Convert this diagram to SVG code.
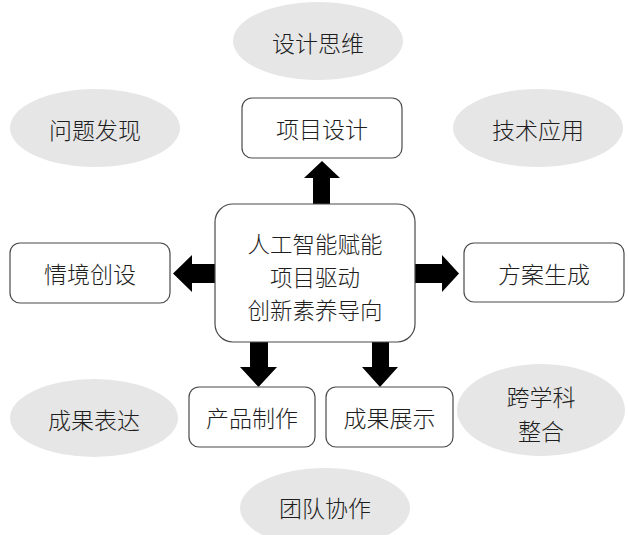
<svg xmlns="http://www.w3.org/2000/svg" width="628" height="535" viewBox="0 0 628 535">
<style>
.ell{fill:#e6e6e6;stroke:none}
.box{fill:#ffffff;stroke:#4a4a4a;stroke-width:1.2}
.t{font-family:"Noto Sans CJK SC","Noto Sans",sans-serif;font-size:23px;font-weight:300;fill:#1e1e1e;text-anchor:middle;dominant-baseline:central}
.tc{font-size:22.5px}
.arr{fill:#000000}
</style>
<rect width="628" height="535" fill="#ffffff"/>
<g id="ellipse-sheji-siwei"><ellipse class="ell" cx="318" cy="41" rx="85" ry="39"/><text class="t" x="318" y="42">设计思维</text></g>
<g id="ellipse-wenti-faxian"><ellipse class="ell" cx="95" cy="128" rx="85" ry="39"/><text class="t" x="95" y="129">问题发现</text></g>
<g id="ellipse-jishu-yingyong"><ellipse class="ell" cx="538" cy="128" rx="85" ry="39"/><text class="t" x="538" y="129">技术应用</text></g>
<g id="ellipse-chengguo-biaoda"><ellipse class="ell" cx="94" cy="418" rx="84" ry="39"/><text class="t" x="94" y="419">成果表达</text></g>
<g id="ellipse-kuxueke"><ellipse class="ell" cx="541" cy="410" rx="84" ry="46"/><text class="t" x="541" y="396">跨学科</text><text class="t" x="541" y="430">整合</text></g>
<g id="ellipse-tuandui"><ellipse class="ell" cx="325" cy="508" rx="85" ry="40"/><text class="t" x="325" y="507">团队协作</text></g>
<g id="connectors">
<polygon class="arr" points="313,205 313,178 304,178 322,161 340,178 330,178 330,205"/>
<polygon class="arr" points="215,264 192,264 192,255 173,273.5 192,292 192,283 215,283"/>
<polygon class="arr" points="415,264 442,264 442,255 459,273.5 442,292 442,283 415,283"/>
<polygon class="arr" points="250,342 250,367 240,367 258.5,387 277,367 268,367 268,342"/>
<polygon class="arr" points="372,342 372,367 362,367 380,387 398,367 389,367 389,342"/>
</g>
<g id="box-xiangmu-sheji"><rect class="box" x="242" y="98" width="160" height="60" rx="10"/><text class="t" x="322" y="128">项目设计</text></g>
<g id="box-center"><rect class="box" x="215" y="204" width="200" height="138" rx="18"/><text class="t tc" x="315" y="243">人工智能赋能</text><text class="t tc" x="315" y="276">项目驱动</text><text class="t tc" x="315" y="309">创新素养导向</text></g>
<g id="box-qingjing"><rect class="box" x="10" y="243" width="160" height="60" rx="10"/><text class="t" x="90" y="273">情境创设</text></g>
<g id="box-fangan"><rect class="box" x="464" y="243" width="160" height="59" rx="10"/><text class="t" x="544" y="273">方案生成</text></g>
<g id="box-chanpin"><rect class="box" x="189" y="387" width="126" height="60" rx="10"/><text class="t" x="252" y="417">产品制作</text></g>
<g id="box-zhanshi"><rect class="box" x="326" y="387" width="127" height="60" rx="10"/><text class="t" x="389.5" y="417">成果展示</text></g>
</svg>
